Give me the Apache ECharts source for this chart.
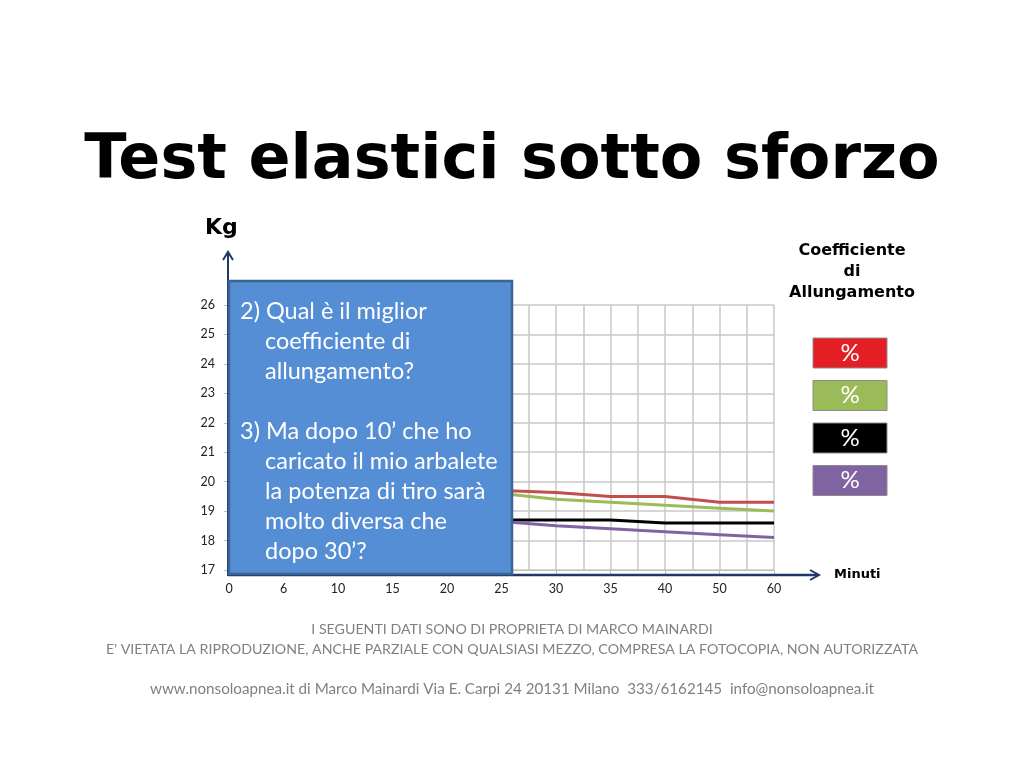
<!DOCTYPE html>
<html>
<head>
<meta charset="utf-8">
<script src="https://cdn.jsdelivr.net/npm/echarts@6/dist/echarts.min.js"></script>
<style>
html,body{margin:0;padding:0;background:#fff;}
#c{width:1024px;height:764px;}
</style>
</head>
<body>
<div id="c"></div>
<script>
// ---- data ----
var minuteLabels = ['0','6','10','15','20','25','30','35','40','50','60'];
var yTicks = [17,18,19,20,21,22,23,24,25,26];
// values 0'-20' are hidden behind the text box in the reference (unknown)
var redSeries    = [null,null,null,null,null,19.7,19.63,19.5,19.5,19.3,19.3];
var greenSeries  = [null,null,null,null,null,19.6,19.4,19.3,19.2,19.1,19.0];
var blackSeries  = [null,null,null,null,null,18.7,18.7,18.7,18.6,18.6,18.6];
var purpleSeries = [null,null,null,null,null,18.65,18.5,18.4,18.3,18.2,18.1];
var seriesColors = ['#C0504D','#9BBB59','#000000','#8064A2'];
var legendColors = ['#E31E24','#9BBB59','#000000','#8064A2'];
var boxLines = [
  {t:'2) Qual è il miglior', indent:false},
  {t:'coefficiente di', indent:true},
  {t:'allungamento?', indent:true},
  {t:'', indent:false},
  {t:'3) Ma dopo 10\u2019 che ho', indent:false},
  {t:'caricato il mio arbalete', indent:true},
  {t:'la potenza di tiro sarà', indent:true},
  {t:'molto diversa che', indent:true},
  {t:'dopo 30\u2019?', indent:true}
];
var footer1 = 'I SEGUENTI DATI SONO DI PROPRIETA DI MARCO MAINARDI';
var footer2 = "E' VIETATA LA RIPRODUZIONE, ANCHE PARZIALE CON QUALSIASI MEZZO, COMPRESA LA FOTOCOPIA, NON AUTORIZZATA";
var footer3 = 'www.nonsoloapnea.it di Marco Mainardi Via E. Carpi 24 20131 Milano  333/6162145  info@nonsoloapnea.it';

function pairs(arr){ return arr.map(function(v,i){ return [i, v]; }); }

var chart = echarts.init(document.getElementById('c'));
var navy = '#1F3864';
var bodyFont = 'Lato, "Open Sans", sans-serif';

var graphics = [];
// title
graphics.push({type:'text', left:'center', top:131, style:{text:'Test elastici sotto sforzo', font:'bold 62px "DejaVu Sans"', fill:'#000'}});
// axis labels
graphics.push({type:'text', left:205, top:217, style:{text:'Kg', font:'bold 22px "DejaVu Sans"', fill:'#000'}});
graphics.push({type:'text', left:834, top:568, style:{text:'Minuti', font:'bold 13px "DejaVu Sans"', fill:'#000'}});
graphics.push({type:'text', x:852, y:240, style:{text:'Coefficiente\ndi\nAllungamento', font:'bold 16px "DejaVu Sans"', fill:'#000', align:'center', lineHeight:21}});
// arrows
graphics.push({type:'line', shape:{x1:228,y1:576,x2:228,y2:253}, style:{stroke:navy, lineWidth:2}, z:50});
graphics.push({type:'polyline', shape:{points:[[223,260],[228,252],[233,260]]}, style:{stroke:navy, lineWidth:2, fill:null}, z:50});
graphics.push({type:'line', shape:{x1:228,y1:575,x2:818,y2:575}, style:{stroke:navy, lineWidth:2.5}, z:50});
graphics.push({type:'polyline', shape:{points:[[810,570],[819,575],[810,580]]}, style:{stroke:navy, lineWidth:2, fill:null}, z:50});
// text box
graphics.push({type:'rect', shape:{x:229,y:281,width:283,height:293}, style:{fill:'#558ED5', stroke:'#3B6596', lineWidth:2.5}, z:60});
boxLines.forEach(function(l,i){
  if(!l.t) return;
  graphics.push({type:'text', x: l.indent ? 265 : 240, y: 311 + i*30.1, style:{text:l.t, font:'23.5px '+bodyFont, fill:'#fff', verticalAlign:'middle'}, z:61});
});
// legend boxes
legendColors.forEach(function(c,i){
  var y = 338 + i*42.5;
  graphics.push({type:'rect', shape:{x:813,y:y,width:74,height:30}, style:{fill:c, stroke:'#8c8c8c', lineWidth:1}, z:40});
  graphics.push({type:'text', x:850, y:y+15, style:{text:'%', font:'24px '+bodyFont, fill:'#fff', align:'center', verticalAlign:'middle'}, z:41});
});
// footer
graphics.push({type:'text', x:512, y:629, style:{text:footer1, font:'14.2px '+bodyFont, fill:'#808080', align:'center', verticalAlign:'middle'}});
graphics.push({type:'text', x:512, y:649, style:{text:footer2, font:'14.2px '+bodyFont, fill:'#808080', align:'center', verticalAlign:'middle'}});
graphics.push({type:'text', x:512, y:689, style:{text:footer3, font:'15.2px '+bodyFont, fill:'#808080', align:'center', verticalAlign:'middle'}});

var series = [redSeries, greenSeries, blackSeries, purpleSeries].map(function(d,i){
  return {type:'line', data:pairs(d), symbol:'none', connectNulls:false, lineStyle:{color:seriesColors[i], width:3}, itemStyle:{color:seriesColors[i]}, z:10};
});

chart.setOption({
  animation:false,
  backgroundColor:'#fff',
  grid:{left:229, right:250, top:305, bottom:194, show:false},
  xAxis:{
    type:'value', min:0, max:minuteLabels.length-1, interval:1,
    axisLine:{show:true, lineStyle:{color:'#BFBFBF', width:1}},
    axisTick:{show:true, length:4, lineStyle:{color:'#BFBFBF'}},
    axisLabel:{margin:12, fontSize:12.5, fontFamily:bodyFont, color:'#222', formatter:function(v){ return minuteLabels[v] !== undefined ? minuteLabels[v] : ''; }},
    splitLine:{show:true, lineStyle:{color:'#C8C8C8', width:1.5}},
    minorTick:{show:false, splitNumber:2},
    minorSplitLine:{show:true, lineStyle:{color:'#C8C8C8', width:1.5}}
  },
  yAxis:{
    type:'value', min:yTicks[0], max:yTicks[yTicks.length-1], interval:1,
    axisLine:{show:true, lineStyle:{color:'#BFBFBF'}},
    axisTick:{show:true, length:5, lineStyle:{color:'#BFBFBF'}},
    axisLabel:{margin:14, fontSize:12.5, fontFamily:bodyFont, color:'#222'},
    splitLine:{show:true, lineStyle:{color:'#C8C8C8', width:1.5}}
  },
  series:series,
  graphic:graphics
});
</script>
</body>
</html>
